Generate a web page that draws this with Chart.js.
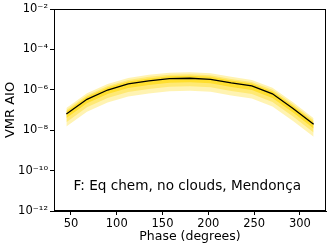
<!DOCTYPE html>
<html><head><meta charset="utf-8">
<script src="https://cdn.jsdelivr.net/npm/chart.js@4/dist/chart.umd.min.js"></script>
<style>html,body{margin:0;padding:0;background:#fff}#wrap{width:332px;height:247px}</style>
</head><body><div id="wrap"><canvas id="c" width="332" height="247"></canvas></div>
<script>
const phases = [45, 67.5, 90, 112.5, 135, 157.5, 180, 202.5, 225, 247.5, 270, 292.5, 315];
const median = [6.3e-8, 3.39e-7, 9.77e-7, 1.95e-6, 2.75e-6, 3.55e-6, 3.72e-6, 3.31e-6, 2.19e-6, 1.55e-6, 6.31e-7, 1.2e-7, 1.95e-8];
const band1Upper = [8.32e-8, 4.47e-7, 1.29e-6, 2.57e-6, 3.63e-6, 4.68e-6, 4.9e-6, 4.37e-6, 2.88e-6, 2.04e-6, 8.32e-7, 1.58e-7, 2.57e-8];
const band1Lower = [3.98e-8, 2.14e-7, 6.17e-7, 1.23e-6, 1.74e-6, 2.24e-6, 2.34e-6, 2.09e-6, 1.38e-6, 9.77e-7, 3.98e-7, 7.59e-8, 1.23e-8];
const band2Upper = [1.0e-7, 5.37e-7, 1.55e-6, 3.09e-6, 4.37e-6, 5.62e-6, 5.89e-6, 5.25e-6, 3.47e-6, 2.45e-6, 1.0e-6, 1.91e-7, 3.09e-8];
const band2Lower = [2.51e-8, 1.35e-7, 3.89e-7, 7.76e-7, 1.1e-6, 1.41e-6, 1.48e-6, 1.32e-6, 8.71e-7, 6.17e-7, 2.51e-7, 4.79e-8, 7.76e-9];
const band3Upper = [1.26e-7, 6.76e-7, 1.95e-6, 3.89e-6, 5.5e-6, 7.08e-6, 7.41e-6, 6.61e-6, 4.37e-6, 3.09e-6, 1.26e-6, 2.4e-7, 3.89e-8];
const band3Lower = [1.51e-8, 8.13e-8, 2.34e-7, 4.68e-7, 6.61e-7, 8.51e-7, 8.91e-7, 7.94e-7, 5.25e-7, 3.72e-7, 1.51e-7, 2.88e-8, 4.68e-9];
const xTicks = [50, 100, 150, 200, 250, 300];
const yTicks = [1e-2, 1e-4, 1e-6, 1e-8, 1e-10, 1e-12];
const yTickLabels = ['10\u207B\u00B2', '10\u207B\u2074', '10\u207B\u2076', '10\u207B\u2078', '10\u207B\u00B9\u2070', '10\u207B\u00B9\u00B2'];
const xTitle = 'Phase (degrees)';
const yTitle = 'VMR AIO';
const note = 'F: Eq chem, no clouds, Mendon\u00E7a';

const pts = arr => arr.map((v, i) => ({x: phases[i], y: v}));
const FONT = 'DejaVu Sans';

const framePlugin = {
  id: 'frame',
  afterDatasetsDraw(chart) {
    const {ctx, chartArea: a} = chart;
    ctx.save();
    ctx.strokeStyle = '#000';
    ctx.lineWidth = 1;
    ctx.strokeRect(Math.round(a.left) + 0.5, Math.round(a.top) + 0.5, Math.round(a.right - a.left) - 1, Math.round(a.bottom - a.top) - 1);
    ctx.fillStyle = '#000';
    ctx.font = '13.6px "' + FONT + '"';
    ctx.textAlign = 'center';
    ctx.textBaseline = 'middle';
    ctx.fillText(note, a.left + 0.49 * (a.right - a.left), a.top + 0.877 * (a.bottom - a.top));
    ctx.restore();
  }
};

new Chart(document.getElementById('c'), {
  type: 'line',
  data: {
    datasets: [
      {data: pts(median), borderColor: '#000', borderWidth: 1.3, pointRadius: 0, fill: false, order: 0},
      {data: pts(band1Upper), borderWidth: 0, pointRadius: 0, backgroundColor: 'rgba(255,215,0,0.6)', fill: {target: 2}, order: 1},
      {data: pts(band1Lower), borderWidth: 0, pointRadius: 0, fill: false, order: 1},
      {data: pts(band2Upper), borderWidth: 0, pointRadius: 0, backgroundColor: 'rgba(255,215,0,0.35)', fill: {target: 4}, order: 2},
      {data: pts(band2Lower), borderWidth: 0, pointRadius: 0, fill: false, order: 2},
      {data: pts(band3Upper), borderWidth: 0, pointRadius: 0, backgroundColor: 'rgba(255,215,0,0.3)', fill: {target: 6}, order: 3},
      {data: pts(band3Lower), borderWidth: 0, pointRadius: 0, fill: false, order: 3}
    ]
  },
  options: {
    responsive: false,
    animation: false,
    devicePixelRatio: 1,
    layout: {padding: {left: 0, right: 6, top: 9, bottom: 0}},
    plugins: {legend: {display: false}, tooltip: {enabled: false}},
    elements: {line: {tension: 0}},
    scales: {
      x: {
        type: 'linear', min: 31.5, max: 328.5,
        afterBuildTicks: s => { s.ticks = xTicks.map(v => ({value: v})); },
        ticks: {font: {family: FONT, size: 11.5}, color: '#000', padding: 2, maxRotation: 0, autoSkip: false},
        grid: {display: true, drawOnChartArea: false, drawTicks: true, tickLength: 4, color: '#000'},
        border: {display: true, color: '#000', width: 1},
        title: {display: true, text: xTitle, font: {family: FONT, size: 12.5}, color: '#000', padding: {top: 0, bottom: 3}},
        afterFit: s => { s.height = 36; }
      },
      y: {
        type: 'logarithmic', min: 1e-12, max: 1e-2,
        afterBuildTicks: s => { s.ticks = yTicks.map(v => ({value: v})); },
        ticks: {
          font: {family: FONT, size: 11.5}, color: '#000', padding: 2, autoSkip: false,
          callback: v => { const i = yTicks.findIndex(t => Math.abs(Math.log10(t) - Math.log10(v)) < 0.01); return i >= 0 ? yTickLabels[i] : ''; }
        },
        grid: {display: true, drawOnChartArea: false, drawTicks: true, tickLength: 4, color: '#000'},
        border: {display: true, color: '#000', width: 1},
        title: {display: true, text: yTitle, font: {family: FONT, size: 13}, color: '#000', padding: {top: 3, bottom: 0}},
        afterFit: s => { s.width = 54; }
      }
    }
  },
  plugins: [framePlugin]
});
</script>
</body></html>
